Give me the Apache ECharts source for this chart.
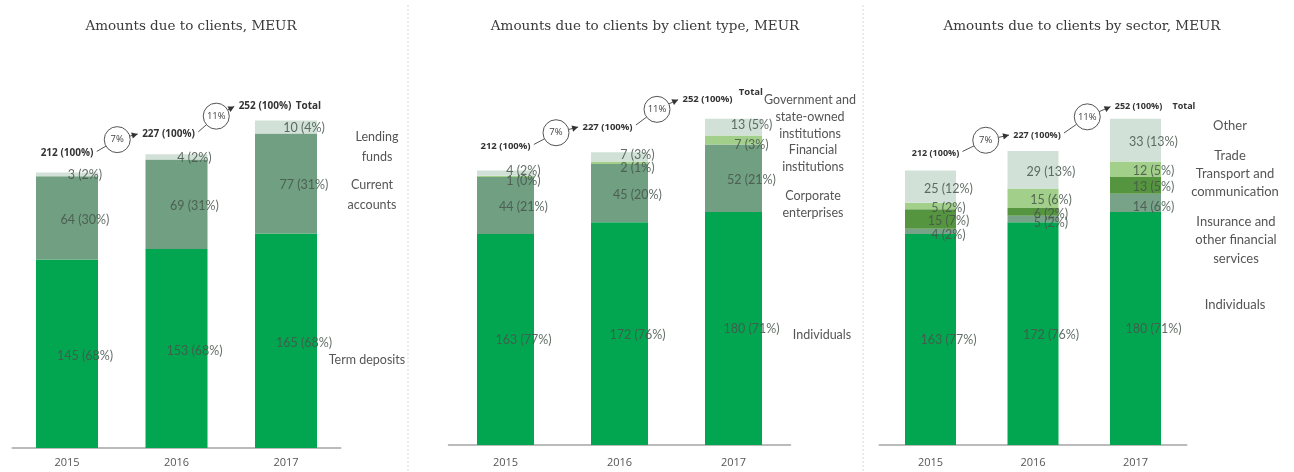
<!DOCTYPE html>
<html>
<head>
<meta charset="utf-8">
<script src="https://cdn.jsdelivr.net/npm/echarts@6/dist/echarts.min.js"></script>
<style>
html,body{margin:0;padding:0;background:#fff;}
#chart{width:1294px;height:472px;}
</style>
</head>
<body>
<div id="chart"></div>
<script>
// ---------- DATA ----------
const categories = ['2015', '2016', '2017'];
const totals = [212, 227, 252];
const growth = ['7%', '11%'];

// Panel 1: Amounts due to clients
const p1Term = [145, 153, 165];
const p1TermPct = [68, 68, 68];
const p1Current = [64, 69, 77];
const p1CurrentPct = [30, 31, 31];
const p1Lending = [3, 4, 10];
const p1LendingPct = [2, 2, 4];

// Panel 2: by client type
const p2Individuals = [163, 172, 180];
const p2IndividualsPct = [77, 76, 71];
const p2Corporate = [44, 45, 52];
const p2CorporatePct = [21, 20, 21];
const p2Financial = [1, 2, 7];
const p2FinancialPct = [0, 1, 3];
const p2Government = [4, 7, 13];
const p2GovernmentPct = [2, 3, 5];

// Panel 3: by sector
const p3Individuals = [163, 172, 180];
const p3IndividualsPct = [77, 76, 71];
const p3Insurance = [4, 5, 14];
const p3InsurancePct = [2, 2, 6];
const p3Transport = [15, 6, 13];
const p3TransportPct = [7, 2, 5];
const p3Trade = [5, 15, 12];
const p3TradePct = [2, 6, 5];
const p3Other = [25, 29, 33];
const p3OtherPct = [12, 13, 13];

const titles = [
  'Amounts due to clients, MEUR',
  'Amounts due to clients by client type, MEUR',
  'Amounts due to clients by sector, MEUR'
];

// ---------- STYLE / LAYOUT ----------
const C = {
  green: '#03a650',
  grayGreen: '#709f82',
  insur: '#78a389',
  transport: '#56953f',
  light: '#a2d08a',
  pale: '#d2e1d7'
};

const panels = [
  {
    grid: {left: 12.25, width: 328.5, top: 58, bottom: 24},
    barWidth: 62, labelMargin: 9,
    series: [
      {name: 'Term deposits', v: p1Term, p: p1TermPct, c: C.green, dy: 2},
      {name: 'Current accounts', v: p1Current, p: p1CurrentPct, c: C.grayGreen, dy: 2},
      {name: 'Lending funds', v: p1Lending, p: p1LendingPct, c: C.pale, dy: 1}
    ],
    totDx: [0, -8, -21], totDy: [19, 19, 14], totFont: 10, totalDx: 3, totalDy: 0,
    titleX: 186,
    side: [
      {t: 'Lending\nfunds', x: 377, y: 147, lh: 20},
      {t: 'Current\naccounts', x: 372, y: 195, lh: 20},
      {t: 'Term deposits', x: 367, y: 360, lh: 20}
    ], sideFont: 12.5
  },
  {
    grid: {left: 448.5, width: 342, top: 56.5, bottom: 27},
    barWidth: 57, labelMargin: 12,
    series: [
      {name: 'Individuals', v: p2Individuals, p: p2IndividualsPct, c: C.green, dy: 1},
      {name: 'Corporate enterprises', v: p2Corporate, p: p2CorporatePct, c: C.grayGreen, dy: 2},
      {name: 'Financial institutions', v: p2Financial, p: p2FinancialPct, c: C.light, dy: 5},
      {name: 'Government and state-owned institutions', v: p2Government, p: p2GovernmentPct, c: C.pale, dy: -2}
    ],
    totDx: [0, -12, -26], totDy: [24, 24, 19], totFont: 9.5, totalDx: 5, totalDy: -7,
    titleX: 640,
    side: [
      {t: 'Government and\nstate-owned\ninstitutions', x: 810, y: 117, lh: 17},
      {t: 'Financial\ninstitutions', x: 813, y: 158.5, lh: 17},
      {t: 'Corporate\nenterprises', x: 813, y: 204.5, lh: 17},
      {t: 'Individuals', x: 822, y: 335, lh: 17}
    ], sideFont: 12.5
  },
  {
    grid: {left: 879.25, width: 307.5, top: 56.5, bottom: 27},
    barWidth: 51, labelMargin: 12,
    series: [
      {name: 'Individuals', v: p3Individuals, p: p3IndividualsPct, c: C.green, dy: 1},
      {name: 'Insurance and other financial services', v: p3Insurance, p: p3InsurancePct, c: C.insur, dy: 4},
      {name: 'Transport and communication', v: p3Transport, p: p3TransportPct, c: C.transport, dy: 2},
      {name: 'Trade', v: p3Trade, p: p3TradePct, c: C.light, dy: 2},
      {name: 'Other', v: p3Other, p: p3OtherPct, c: C.pale, dy: 2}
    ],
    totDx: [5, 4, 3], totDy: [17, 16, 12], totFont: 9, totalDx: 9, totalDy: 0,
    titleX: 1077,
    side: [
      {t: 'Other', x: 1230, y: 126, lh: 18},
      {t: 'Trade', x: 1230, y: 156, lh: 18},
      {t: 'Transport and\ncommunication', x: 1235, y: 183, lh: 18},
      {t: 'Insurance and\nother financial\nservices', x: 1236, y: 240, lh: 18.5},
      {t: 'Individuals', x: 1235, y: 305, lh: 18}
    ], sideFont: 13
  }
];

const grids = [], xAxes = [], yAxes = [], series = [], titleArr = [], graphics = [];

panels.forEach((pn, gi) => {
  grids.push(Object.assign({containLabel: false}, pn.grid));
  xAxes.push({
    type: 'category', gridIndex: gi, data: categories,
    axisLine: {lineStyle: {color: '#a5a5a5', width: 1.5}},
    axisTick: {show: false},
    axisLabel: {color: '#555', fontSize: 11, fontFamily: 'Open Sans', margin: pn.labelMargin}
  });
  yAxes.push({type: 'value', gridIndex: gi, min: 0, max: 300, show: false, splitLine: {show: false}});

  pn.series.forEach(s => {
    series.push({
      type: 'bar', name: s.name, xAxisIndex: gi, yAxisIndex: gi, stack: 'p' + gi,
      barWidth: pn.barWidth, data: s.v,
      itemStyle: {color: s.c},
      label: {
        show: true, position: 'inside', offset: [18, s.dy],
        color: 'rgba(70,85,75,0.85)', fontSize: 12.5, fontFamily: 'Lato',
        formatter: p => s.v[p.dataIndex] + ' (' + s.p[p.dataIndex] + '%)'
      },
      emphasis: {disabled: true}, silent: true
    });
  });

  // totals + growth connectors
  const last = totals.length - 1;
  series.push({
    type: 'custom', xAxisIndex: gi, yAxisIndex: gi, silent: true, clip: false, z: 10,
    data: totals.map((t, i) => [i, t]),
    encode: {x: 0, y: 1},
    renderItem: (params, api) => {
      const i = params.dataIndex;
      const A = api.coord([i, totals[i]]);
      const lx = A[0] + pn.totDx[i], ly = A[1] - pn.totDy[i];
      const txt = totals[i] + ' (100%)';
      const font = 'bold ' + pn.totFont + 'px "Open Sans"';
      const w = pn.totFont * 5.55;
      const children = [{
        type: 'text',
        style: {text: txt, x: lx, y: ly, align: 'center', verticalAlign: 'middle', font: font, fill: '#333'}
      }];
      if (i === last) {
        children.push({
          type: 'text',
          style: {text: 'Total', x: lx + w / 2 + pn.totalDx, y: ly + pn.totalDy, align: 'left', verticalAlign: 'middle', font: font, fill: '#333'}
        });
      } else {
        const B = api.coord([i + 1, totals[i + 1]]);
        const bx = B[0] + pn.totDx[i + 1], by = B[1] - pn.totDy[i + 1];
        const s0 = [lx + w / 2 + 2, ly - 2];
        const e0 = [bx - w / 2 - 3, by];
        const cx = (s0[0] + e0[0]) / 2, cy = (s0[1] + e0[1]) / 2 - 3;
        const r = 13;
        const edge = (from) => {
          const dx = from[0] - cx, dy = from[1] - cy, d = Math.hypot(dx, dy);
          return [cx + dx / d * r, cy + dy / d * r];
        };
        const c1 = edge(s0), c2 = edge(e0);
        const lineStyle = {stroke: '#555', lineWidth: 1};
        children.push({type: 'line', shape: {x1: s0[0], y1: s0[1], x2: c1[0], y2: c1[1]}, style: lineStyle});
        children.push({type: 'line', shape: {x1: c2[0], y1: c2[1], x2: e0[0], y2: e0[1]}, style: lineStyle});
        children.push({type: 'circle', shape: {cx: cx, cy: cy, r: r}, style: {fill: '#fff', stroke: '#555', lineWidth: 1}});
        children.push({type: 'text', style: {text: growth[i], x: cx, y: cy, align: 'center', verticalAlign: 'middle', font: '9.5px "Open Sans"', fill: '#444'}});
        // arrow head
        const dx = e0[0] - c2[0], dy = e0[1] - c2[1], d = Math.hypot(dx, dy);
        const ux = dx / d, uy = dy / d, L = 6, Wd = 3.2;
        const bxp = e0[0] - ux * L, byp = e0[1] - uy * L;
        children.push({type: 'polygon', shape: {points: [[e0[0], e0[1]], [bxp - uy * Wd, byp + ux * Wd], [bxp + uy * Wd, byp - ux * Wd]]}, style: {fill: '#333'}});
      }
      return {type: 'group', children: children};
    }
  });

  titleArr.push({
    text: titles[gi], left: pn.titleX, top: 14, textAlign: 'center',
    textStyle: {fontFamily: 'DejaVu Serif', fontSize: 13.5, fontWeight: 'normal', color: '#3a3a3a'}
  });

  pn.side.forEach(sd => {
    graphics.push({
      type: 'text', silent: true,
      style: {text: sd.t, x: sd.x, y: sd.y, align: 'center', verticalAlign: 'middle',
        font: pn.sideFont + 'px Lato', fill: '#555', lineHeight: sd.lh}
    });
  });
});

[408, 863].forEach(x => {
  graphics.push({type: 'line', silent: true, shape: {x1: x, y1: 5, x2: x, y2: 472},
    style: {stroke: '#d8d8d8', lineWidth: 1, lineDash: [2, 2]}});
});

const chart = echarts.init(document.getElementById('chart'), null, {renderer: 'canvas'});
chart.setOption({
  animation: false,
  backgroundColor: '#fff',
  title: titleArr,
  grid: grids,
  xAxis: xAxes,
  yAxis: yAxes,
  series: series,
  graphic: graphics
});
</script>
</body>
</html>
